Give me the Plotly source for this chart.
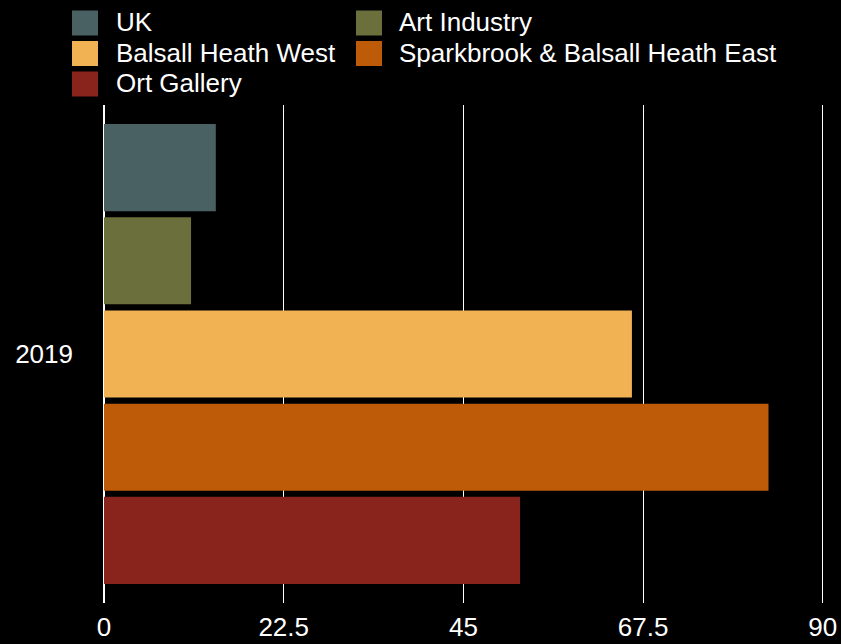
import plotly.graph_objects as go

categories = ["2019"]
series_names = ["UK", "Art Industry", "Balsall Heath West", "Sparkbrook & Balsall Heath East", "Ort Gallery"]
series_values = [[14.0], [10.9], [66.1], [83.2], [52.1]]
series_colors = ["#4A6163", "#6B6F3B", "#F0B252", "#BD5B08", "#89241C"]
x_ticks = [0, 22.5, 45, 67.5, 90]
x_tick_labels = ["0", "22.5", "45", "67.5", "90"]

W, H = 841, 644
L, R, T, B = 104, 17, 105, 41
PW, PH = W - L - R, H - T - B
FONT = "Liberation Sans, Arial, Helvetica, sans-serif"
FS = 26

fig = go.Figure()
for name, vals, col in zip(series_names, series_values, series_colors):
    fig.add_trace(go.Bar(y=categories, x=vals, name=name, orientation="h",
                         marker=dict(color=col, line=dict(width=0)), showlegend=False))

# manual legend (two columns, row-major)
def px_x(px):
    return (px - L) / PW

def px_y(py):
    return (H - B - py) / PH

col_sw = [72, 356]
col_tx = [114, 397]
row_cy = [23, 53.5, 84]
shapes = []
annotations = []
for i, (name, col) in enumerate(zip(series_names, series_colors)):
    r, c = divmod(i, 2)
    cy = row_cy[r]
    shapes.append(dict(type="rect", xref="paper", yref="paper",
                       x0=px_x(col_sw[c]), x1=px_x(col_sw[c] + 26),
                       y0=px_y(cy + 12.5), y1=px_y(cy - 12.5),
                       fillcolor=col, line=dict(width=0), layer="above"))
    annotations.append(dict(text=name, xref="paper", yref="paper",
                            x=px_x(col_tx[c]), y=px_y(cy - 0.5), xanchor="left", yanchor="middle",
                            showarrow=False, font=dict(family=FONT, size=FS, color="#FFFFFF")))

fig.update_layout(
    width=W, height=H,
    margin=dict(l=L, r=R, t=T, b=B, pad=0, autoexpand=False),
    paper_bgcolor="#000000", plot_bgcolor="#000000",
    barmode="group", bargap=0.064, bargroupgap=0.065,
    font=dict(family=FONT, size=FS, color="#FFFFFF"),
    shapes=shapes, annotations=annotations,
    showlegend=False,
)
fig.update_xaxes(range=[0, 90.15], tickvals=x_ticks, ticktext=x_tick_labels,
                 showgrid=True, gridcolor="#FFFFFF", gridwidth=1,
                 zeroline=True, zerolinecolor="#FFFFFF", zerolinewidth=2,
                 showline=False, ticks="", ticklabelstandoff=6, automargin=False,
                 tickfont=dict(family=FONT, size=FS, color="#FFFFFF"))
fig.update_yaxes(range=[0.5, -0.5], type="category", showgrid=False, zeroline=False,
                 showline=False, ticks="", ticklabelstandoff=30, automargin=False,
                 tickfont=dict(family=FONT, size=FS, color="#FFFFFF"))

fig.write_html("out.html", config={"displayModeBar": False},
               post_script="document.body.style.margin='0';document.body.style.background='#000';")
